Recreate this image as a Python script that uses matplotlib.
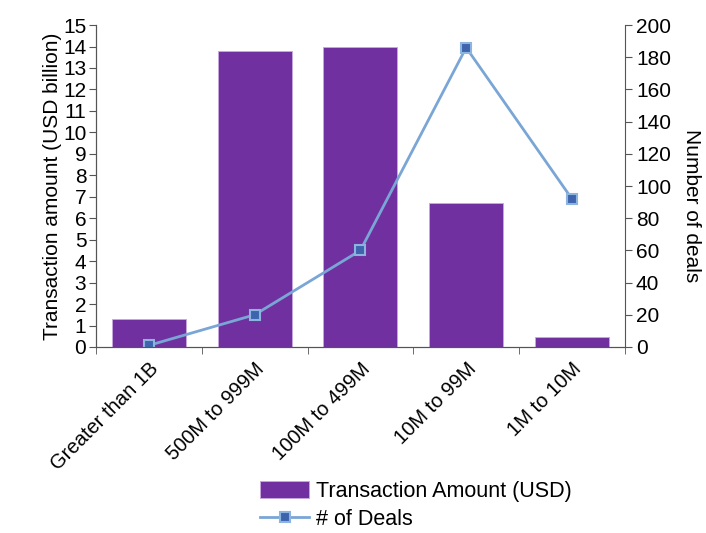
import numpy as np
import matplotlib.pyplot as plt

plt.rcParams['font.family'] = ['Liberation Sans', 'DejaVu Sans']

categories = ["Greater than 1B", "500M to 999M", "100M to 499M", "10M to 99M", "1M to 10M"]
amount = [1.3, 13.8, 14.0, 6.7, 0.45]
deals = [1, 20, 60, 186, 92]

fig, ax = plt.subplots(figsize=(7.06, 5.33), dpi=100)
fig.subplots_adjust(left=0.136, right=0.885, top=0.953, bottom=0.349)

x = np.arange(len(categories))
bars = ax.bar(x, amount, width=0.7, color='#7030a0', edgecolor='#c9a8e0', linewidth=0.6,
              label='Transaction Amount (USD)')
ax.set_xlim(-0.5, len(categories) - 0.5)
ax.set_ylim(0, 15)
ax.set_yticks(range(0, 16))
ax.set_ylabel("Transaction amount (USD billion)", fontsize=15, labelpad=1)

ax2 = ax.twinx()
line, = ax2.plot(x, deals, color='#7aa6d6', linewidth=2, marker='s', markersize=7,
                 markerfacecolor='#3d64ad', markeredgecolor='#8db4de', markeredgewidth=1.5,
                 label='# of Deals')
ax2.set_ylim(0, 200)
ax2.set_yticks(range(0, 201, 20))
ax2.set_ylabel("Number of deals", fontsize=15, rotation=270)
ax2.yaxis.set_label_coords(1.145, 0.44)

ax.set_xticks(x)
ax.set_xticklabels(categories, rotation=45, ha='right', rotation_mode='anchor', fontsize=14.5)
ax.set_xticks(np.arange(-0.5, len(categories)), minor=True)
ax.tick_params(axis='x', which='major', length=0, pad=9)
ax.tick_params(axis='x', which='minor', length=5, direction='out', color='#555555')
ax.tick_params(axis='y', labelsize=15, length=5, color='#555555', pad=2)
ax2.tick_params(axis='y', labelsize=15, length=5, color='#555555', pad=3)

for a in (ax, ax2):
    a.spines['top'].set_visible(False)
    for s in ('left', 'right', 'bottom'):
        a.spines[s].set_color('#555555')
ax.spines['right'].set_visible(False)

fig.legend([bars, line], ['Transaction Amount (USD)', '# of Deals'], loc='lower center',
           bbox_to_anchor=(0.589, -0.03), frameon=False, fontsize=15.5, handlelength=2.3,
           handleheight=0.8, labelspacing=0.3, handletextpad=0.3)

plt.savefig("out.png")
